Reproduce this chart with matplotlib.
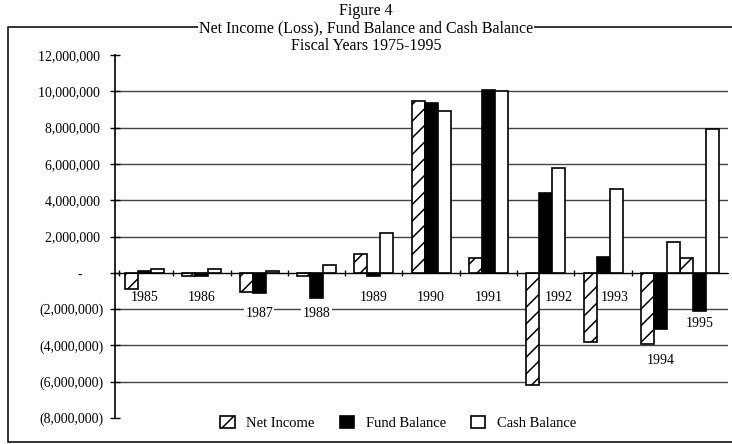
import matplotlib
matplotlib.use('Agg')
import matplotlib.pyplot as plt
import numpy as np
from matplotlib.patches import Patch
from matplotlib.lines import Line2D
from matplotlib.ticker import FuncFormatter

plt.rcParams['font.family'] = ['Liberation Serif', 'DejaVu Serif']
plt.rcParams['hatch.linewidth'] = 1.1

years = [1985, 1986, 1987, 1988, 1989, 1990, 1991, 1992, 1993, 1994, 1995]
net_income = [-900000, -150000, -1050000, -150000, 1050000, 9450000,
              800000, -6200000, -3800000, -3950000, 800000]
fund_balance = [100000, -150000, -1100000, -1380000, -150000, 9350000,
                10050000, 4400000, 850000, -3100000, -2100000]
cash_balance = [220000, 200000, 80000, 450000, 2200000, 8900000,
                10000000, 5800000, 4600000, 1700000, 7900000]
legend_labels = ['Net Income', 'Fund Balance', 'Cash Balance']

# where the year labels sit (data y, x shift in group units) -- hand placed like the original
label_y = [-1380000, -1380000, -2250000, -2250000, -1380000, -1380000,
           -1380000, -1380000, -1380000, -4850000, -2800000]
label_dx = [0, 0, 0, 0, 0, 0, 0, 0.22, 0.2, 0, 0]

w = 0.227
pos = np.arange(len(years), dtype=float)
pos[-1] = pos[-2] + 3 * w   # last group butts up against 1994 in the original

fig = plt.figure(figsize=(7.32, 4.44), dpi=100)
ax = fig.add_axes([115/732., 1 - 418/444., (728 - 115)/732., (418 - 55)/444.])

ax.bar(pos, net_income, w, align='edge', color='white', edgecolor='black',
       hatch='//', linewidth=1.2, zorder=3)
ax.bar(pos + w, fund_balance, w, align='edge', color='black', edgecolor='black',
       linewidth=1.2, zorder=3)
ax.bar(pos + 2*w, cash_balance, w, align='edge', color='white', edgecolor='black',
       linewidth=1.2, zorder=3)

for i in range(len(years)):
    ax.text(pos[i] + 1.5*w + label_dx[i], label_y[i], str(years[i]),
            ha='center', va='center', fontsize=10, zorder=4,
            bbox=dict(facecolor='white', edgecolor='none', pad=1))

ax.set_xlim(-0.175, 10.52)
ax.set_ylim(-8000000, 12000000)
ax.set_yticks(np.arange(-8000000, 12000001, 2000000))

def money(v, p):
    if v == 0:
        return '-      '
    if v < 0:
        return '(%s)' % format(int(-v), ',')
    return format(int(v), ',') + ' '
ax.yaxis.set_major_formatter(FuncFormatter(money))
ax.tick_params(axis='y', direction='inout', length=7, width=1, labelsize=10, pad=5)

# little ticks between groups on the zero line
ax.set_xticks(np.concatenate([[-0.1], pos[:9] + 3*w + (1 - 3*w)/2]))
ax.set_xticklabels([])
ax.tick_params(axis='x', direction='inout', length=5, width=1)

ax.spines['top'].set_visible(False)
ax.spines['right'].set_visible(False)
ax.spines['left'].set_linewidth(1.2)
ax.spines['bottom'].set_position(('data', 0))
ax.spines['bottom'].set_zorder(5)

ax.grid(axis='y', color='#444444', linewidth=1)
ax.set_axisbelow(True)
glines = ax.get_ygridlines()
glines[0].set_visible(False)
glines[-1].set_visible(False)

handles = [Patch(facecolor='white', edgecolor='black', hatch='//', linewidth=1.2),
           Patch(facecolor='black', edgecolor='black', linewidth=1.2),
           Patch(facecolor='white', edgecolor='black', linewidth=1.2)]
fig.legend(handles, legend_labels, loc='center', bbox_to_anchor=(0.544, 0.047),
           ncol=3, frameon=False, fontsize=10.5, handlelength=1.0, handleheight=0.9,
           handletextpad=0.8, columnspacing=1.7)

# outer frame of the figure box
fig.add_artist(Line2D([1.0, 0.011, 0.011, 1.0], [0.939, 0.939, 0.005, 0.005],
                      transform=fig.transFigure, color='#222222', linewidth=1.3))

fig.text(0.5, 0.975, 'Figure 4', ha='center', va='center', fontsize=11.5)
fig.text(0.5, 0.937, 'Net Income (Loss), Fund Balance and Cash Balance', ha='center',
         va='center', fontsize=11.5,
         bbox=dict(facecolor='white', edgecolor='none', pad=0.5))
fig.text(0.5, 0.896, 'Fiscal Years 1975-1995', ha='center', va='center', fontsize=11.5)

fig.savefig('out.png', dpi=100)
